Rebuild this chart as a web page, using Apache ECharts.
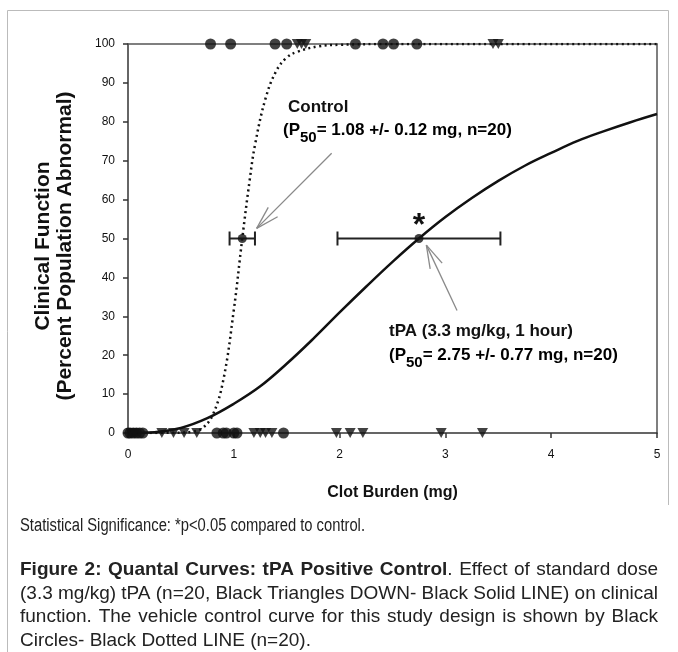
<!DOCTYPE html>
<html>
<head>
<meta charset="utf-8">
<title>Figure 2: Quantal Curves: tPA Positive Control</title>
<script src="https://cdn.jsdelivr.net/npm/echarts@6/dist/echarts.min.js"></script>
<style>
  html, body { margin: 0; padding: 0; background: #fff; }
  #chart { width: 678px; height: 652px; }
</style>
</head>
<body>
<div id="chart"></div>
<script>
// ---- data ----
var xTicks = [0, 1, 2, 3, 4, 5];
var yTicks = [0, 10, 20, 30, 40, 50, 60, 70, 80, 90, 100];

// control (vehicle) quantal curve, dotted
var controlCurveX = [0, 0.5, 0.6, 0.7, 0.8, 0.9, 1.0, 1.08, 1.15, 1.2, 1.3, 1.4, 1.5, 1.6, 1.8, 2.0, 2.5, 5];
var controlCurveY = [0, 0.1, 0.3, 1.2, 4.6, 13.5, 31.6, 50, 65, 74, 86, 93, 96.5, 98, 99.4, 99.8, 100, 100];

// tPA quantal curve, solid
var tpaCurveX = [0, 0.25, 0.5, 0.75, 1, 1.25, 1.5, 1.75, 2, 2.25, 2.5, 2.75, 3, 3.25, 3.5, 3.75, 4, 4.25, 4.5, 4.75, 5];
var tpaCurveY = [0, 0.2, 1.3, 3.8, 7.5, 12, 17.8, 24.2, 31, 37.6, 44, 50, 55.5, 60.4, 64.8, 68.7, 72, 75.1, 77.6, 79.9, 82];

// individual animals: clot burden (mg) at abnormal (100) or normal (0)
var controlAbnormal = [0.78, 0.97, 1.39, 1.50, 2.15, 2.41, 2.51, 2.73];
var controlNormal = [0.0, 0.02, 0.05, 0.08, 0.11, 0.14, 0.84, 0.90, 0.93, 1.0, 1.03, 1.47];
var tpaAbnormal = [1.60, 1.64, 1.68, 3.45, 3.50];
var tpaNormal = [0.03, 0.06, 0.32, 0.43, 0.53, 0.65, 1.19, 1.25, 1.30, 1.36, 1.97, 2.10, 2.22, 2.96, 3.35];

// P50 +/- error
var p50Control = [1.08, 50, 0.12];
var p50Tpa = [2.75, 50, 0.77];

// annotation arrows [x tail, y tail, x tip, y tip]
var arrowControl = [1.925, 71.9, 1.216, 52.6];
var arrowTpa = [3.11, 31.5, 2.82, 48.3];

var FONT = 'Liberation Sans, Arial, sans-serif';

function pairs(xs, ys) {
  return xs.map(function (x, i) { return [x, ys[i]]; });
}
function atLevel(xs, level) {
  return xs.map(function (x) { return [x, level]; });
}

var chart = echarts.init(document.getElementById('chart'));

// caption lines, laid out word by word so they can be justified
var measureCtx = document.createElement('canvas').getContext('2d');
function fontStr(bold, size) { return (bold ? 'bold ' : '') + size + 'px ' + FONT; }
function captionLine(segs, y, justify, size, squeeze) {
  function textW(t, bold) {
    measureCtx.font = fontStr(bold, size);
    return measureCtx.measureText(t).width * squeeze;
  }
  var words = [];
  segs.forEach(function (s, si) {
    s.t.split(' ').forEach(function (p, i) {
      if (p === '') return;
      if (i === 0 && si > 0 && s.t[0] !== ' ') words[words.length - 1].push({ t: p, b: s.b });
      else words.push([{ t: p, b: s.b }]);
    });
  });
  var widths = words.map(function (w) {
    return w.reduce(function (a, part) { return a + textW(part.t, part.b); }, 0);
  });
  var left = 20, right = 658;
  var gap = textW(' ', false);
  if (justify) {
    var total = widths.reduce(function (a, b) { return a + b; }, 0);
    gap = (right - left - total) / (words.length - 1);
  }
  var els = [];
  var x = left;
  words.forEach(function (w, i) {
    var px = x;
    w.forEach(function (part) {
      els.push({
        type: 'text', x: px, y: y, scaleX: squeeze,
        style: { text: part.t, font: fontStr(part.b, size), fill: '#222', textVerticalAlign: 'middle' }
      });
      px += textW(part.t, part.b);
    });
    x += widths[i] + gap;
  });
  return els;
}

var captionEls = [].concat(
  captionLine([{ t: 'Statistical Significance: *p<0.05 compared to control.', b: false }], 526, false, 18, 0.82),
  captionLine([{ t: 'Figure 2: Quantal Curves: tPA Positive Control', b: true }, { t: '. Effect of standard dose', b: false }], 570, true, 19, 1),
  captionLine([{ t: '(3.3 mg/kg) tPA (n=20, Black Triangles DOWN- Black Solid LINE) on clinical', b: false }], 594, true, 19, 1),
  captionLine([{ t: 'function. The vehicle control curve for this study design is shown by Black', b: false }], 617, true, 19, 1),
  captionLine([{ t: 'Circles- Black Dotted LINE (n=20).', b: false }], 641, false, 19, 1)
);

var boldRich = {
  m: { fontFamily: FONT, fontWeight: 'bold', fontSize: 17, color: '#111', verticalAlign: 'top', lineHeight: 20 },
  s: { fontFamily: FONT, fontWeight: 'bold', fontSize: 15, color: '#111', verticalAlign: 'top', lineHeight: 20, padding: [8, 0, 0, 0] }
};

var errorRender = function (params, api) {
  var x = api.value(0), y = api.value(1), e = api.value(2);
  var l = api.coord([x - e, y]), r = api.coord([x + e, y]);
  var h = 7, st = { stroke: '#222', lineWidth: 2 };
  return {
    type: 'group',
    children: [
      { type: 'line', shape: { x1: l[0], y1: l[1], x2: r[0], y2: r[1] }, style: st },
      { type: 'line', shape: { x1: l[0], y1: l[1] - h, x2: l[0], y2: l[1] + h }, style: st },
      { type: 'line', shape: { x1: r[0], y1: r[1] - h, x2: r[0], y2: r[1] + h }, style: st }
    ]
  };
};

var arrowRender = function (params, api) {
  var a = api.coord([api.value(0), api.value(1)]);
  var b = api.coord([api.value(2), api.value(3)]);
  var ang = Math.atan2(a[1] - b[1], a[0] - b[0]);
  var len = 24, spread = 0.28;
  var st = { stroke: '#8a8a8a', lineWidth: 1.3 };
  function head(d) {
    return { x1: b[0], y1: b[1], x2: b[0] + len * Math.cos(ang + d), y2: b[1] + len * Math.sin(ang + d) };
  }
  return {
    type: 'group',
    children: [
      { type: 'line', shape: { x1: a[0], y1: a[1], x2: b[0], y2: b[1] }, style: st },
      { type: 'line', shape: head(spread), style: st },
      { type: 'line', shape: head(-spread), style: st }
    ]
  };
};

var option = {
  animation: false,
  backgroundColor: '#fff',
  grid: { left: 128, right: 21, top: 44, bottom: 219 },
  xAxis: [{
    type: 'value', min: xTicks[0], max: xTicks[xTicks.length - 1], interval: 1,
    name: 'Clot Burden (mg)', nameLocation: 'middle', nameGap: 52,
    nameTextStyle: { fontFamily: FONT, fontWeight: 'bold', fontSize: 16, color: '#111' },
    axisLine: { lineStyle: { color: '#333', width: 1.5 } },
    axisTick: { show: true, length: 5, lineStyle: { color: '#333', width: 1.5 } },
    axisLabel: { fontFamily: FONT, fontSize: 12, color: '#111', margin: 16 },
    splitLine: { show: false }
  }, {
    type: 'value', position: 'top', min: 0, max: 5,
    axisLine: { show: true, onZero: false, lineStyle: { color: '#555', width: 1.5 } },
    axisTick: { show: false }, axisLabel: { show: false }, splitLine: { show: false }
  }],
  yAxis: [{
    type: 'value', min: yTicks[0], max: yTicks[yTicks.length - 1], interval: 10,
    axisLine: { show: true, lineStyle: { color: '#333', width: 1.5 } },
    axisTick: { show: true, length: 5, lineStyle: { color: '#333', width: 1.5 } },
    axisLabel: { fontFamily: FONT, fontSize: 12, color: '#111', margin: 13 },
    splitLine: { show: false }
  }, {
    type: 'value', position: 'right', min: 0, max: 100,
    axisLine: { show: true, onZero: false, lineStyle: { color: '#555', width: 1.5 } },
    axisTick: { show: false }, axisLabel: { show: false }, splitLine: { show: false }
  }],
  graphic: [
    { type: 'line', shape: { x1: 7.5, y1: 10.5, x2: 668.5, y2: 10.5 }, style: { stroke: '#bbb', lineWidth: 1 } },
    { type: 'line', shape: { x1: 7.5, y1: 10.5, x2: 7.5, y2: 652 }, style: { stroke: '#bbb', lineWidth: 1 } },
    { type: 'line', shape: { x1: 668.5, y1: 10.5, x2: 668.5, y2: 505 }, style: { stroke: '#bbb', lineWidth: 1 } },
    {
      type: 'text', x: 43, y: 246, rotation: Math.PI / 2,
      style: { text: 'Clinical Function', font: 'bold 21px ' + FONT, fill: '#111', textAlign: 'center', textVerticalAlign: 'middle' }
    },
    {
      type: 'text', x: 65, y: 246, rotation: Math.PI / 2,
      style: { text: '(Percent Population Abnormal)', font: 'bold 21px ' + FONT, fill: '#111', textAlign: 'center', textVerticalAlign: 'middle' }
    },
    {
      type: 'text', x: 288, y: 99,
      style: { text: 'Control', font: 'bold 17px ' + FONT, fill: '#111' }
    },
    {
      type: 'text', x: 283, y: 122,
      style: { text: '{m|(P}{s|50}{m|= 1.08 +/- 0.12 mg, n=20)}', rich: boldRich }
    },
    {
      type: 'text', x: 389, y: 323,
      style: { text: 'tPA (3.3 mg/kg, 1 hour)', font: 'bold 17px ' + FONT, fill: '#111' }
    },
    {
      type: 'text', x: 389, y: 347,
      style: { text: '{m|(P}{s|50}{m|= 2.75 +/- 0.77 mg, n=20)}', rich: boldRich }
    },
    {
      type: 'text', x: 419, y: 210,
      style: { text: '*', font: 'bold 32px ' + FONT, fill: '#111', textAlign: 'center' }
    }
  ].concat(captionEls),
  series: [
    {
      type: 'line', data: pairs(controlCurveX, controlCurveY), smooth: 0.4, showSymbol: false,
      lineStyle: { color: '#111', width: 2.5, type: [2, 3.5] }, z: 2
    },
    {
      type: 'line', data: pairs(tpaCurveX, tpaCurveY), smooth: 0.4, showSymbol: false,
      lineStyle: { color: '#111', width: 2.5 }, z: 2
    },
    { type: 'custom', renderItem: arrowRender, data: [arrowControl, arrowTpa], z: 3 },
    { type: 'custom', renderItem: errorRender, data: [p50Control, p50Tpa], z: 4 },
    {
      type: 'scatter', data: [p50Control.slice(0, 2), p50Tpa.slice(0, 2)],
      symbol: 'circle', symbolSize: 9, itemStyle: { color: '#111' }, z: 5
    },
    {
      type: 'scatter', data: atLevel(controlAbnormal, 100).concat(atLevel(controlNormal, 0)),
      symbol: 'circle', symbolSize: 11, itemStyle: { color: '#111' }, z: 6
    },
    {
      type: 'scatter', data: atLevel(tpaAbnormal, 100).concat(atLevel(tpaNormal, 0)),
      symbol: 'triangle', symbolRotate: 180, symbolSize: [11, 10], itemStyle: { color: '#111' }, z: 6
    }
  ]
};

chart.setOption(option);
</script>
</body>
</html>
